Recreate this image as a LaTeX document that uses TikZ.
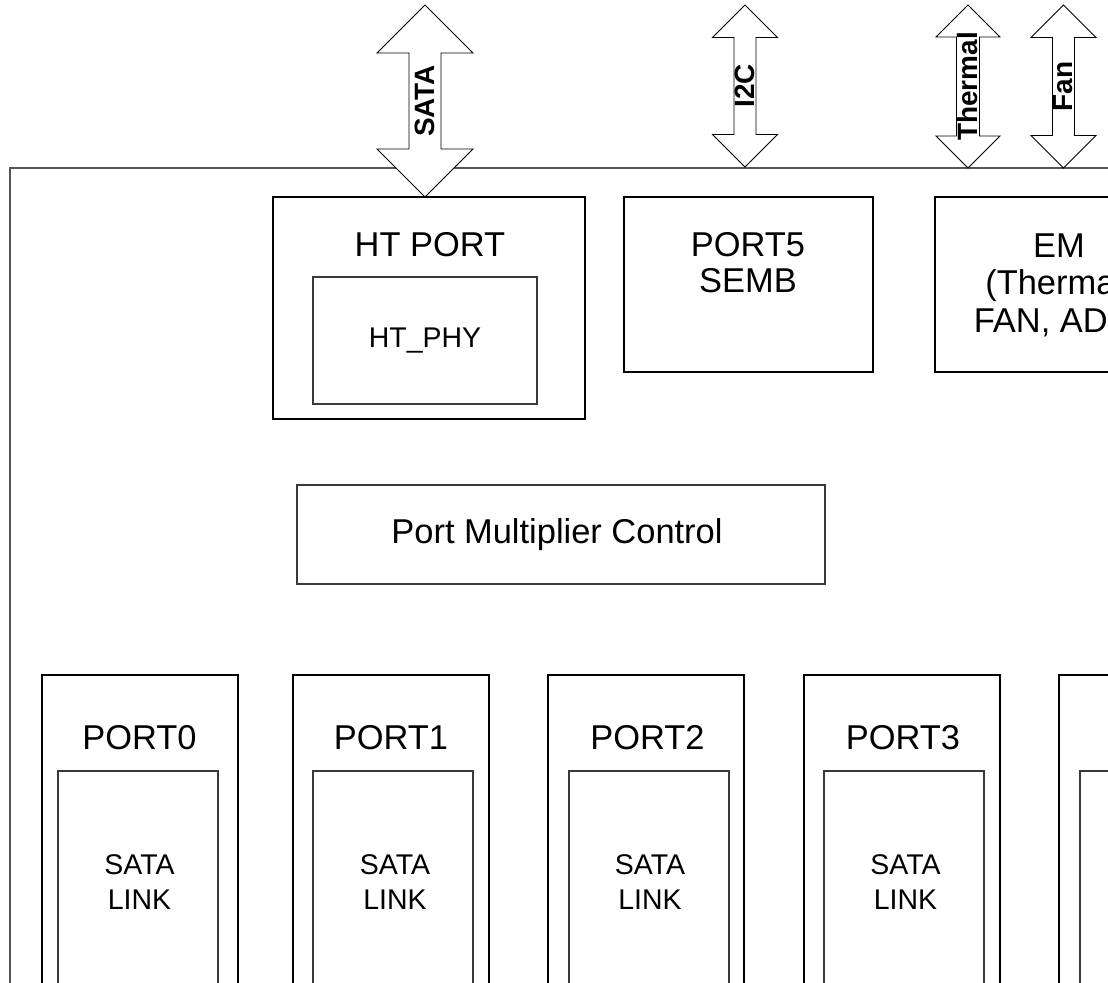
\documentclass[tikz,border=0pt]{standalone}
\usepackage{fontspec}
\setmainfont{Liberation Sans}
\definecolor{rahmen}{HTML}{555555}
\definecolor{duenn}{HTML}{3A3A3A}
\tikzset{
  block/.style={draw=black,line width=1.2pt},
  subblock/.style={draw=duenn,line width=0.6pt},
  frame/.style={draw=rahmen,line width=0.6pt},
  bus/.style={draw=black,fill=white,line width=0.55pt,line join=miter},
  buslbl/.style={font=\bfseries\fontsize{15.9}{16}\selectfont,inner sep=0pt,rotate=90},
  biglbl/.style={font=\fontsize{19.6}{20.4}\selectfont,inner sep=0pt,align=center,anchor=north},
  lbl/.style={font=\fontsize{16.2}{19.8}\selectfont,inner sep=0pt,align=center,anchor=north},
}

\begin{document}
\begin{tikzpicture}[x=0.2mm,y=-0.2mm]
  \useasboundingbox (0,0) rectangle (1108,983);
  \clip (0,0) rectangle (1108,983);
  % ===== outer frame =====
  \draw[frame] (10,1100) -- (10,168) -- (1200,168);
  % ===== bus arrows =====
  \foreach \x/\h/\s/\b/\nm/\txt in {425/48/16/197/sata/SATA, 745/32.5/11/167/itwoc/I2C,
      968/32/11.5/168/thermal/Thermal, 1063.5/32.5/11/168/fan/Fan}{
    \draw[bus] (\x,5) -- (\x+\h,5+\h) -- (\x+\s,5+\h) -- (\x+\s,\b-\h) -- (\x+\h,\b-\h)
      -- (\x,\b) -- (\x-\h,\b-\h) -- (\x-\s,\b-\h) -- (\x-\s,5+\h) -- (\x-\h,5+\h) -- cycle;
    \node[buslbl] (\nm) at (\x,{(5+\b)/2}) {\txt};
  }
  % ===== HT port =====
  \draw[block] (273,197) rectangle (585,419);
  \draw[subblock] (313,277) rectangle (537,404);
  \node[biglbl] (htport) at (430,232) {HT PORT};
  \node[lbl] (htphy) at (425,328) {HT\_PHY};
  % ===== SEMB, EM =====
  \draw[block] (624,197) rectangle (873,372);
  \node[biglbl] (port5) at (748,232) {PORT5\\SEMB};
  \draw[block] (935,197) rectangle (1184,372);
  \node[biglbl,font=\fontsize{19.6}{21.5}\selectfont] (em) at (1059,233) {EM\\(Thermal,\\FAN, ADC)};
  % ===== control =====
  \draw[subblock] (297,485) rectangle (825,584);
  \node[biglbl] (pmc) at (557,518) {Port Multiplier Control};
  % ===== device ports =====
  \foreach \l/\m in {42/58, 293/313, 548/569, 804/824, 1059/1080}{
    \draw[block] (\l,675) rectangle ++(196,500);
    \draw[subblock] (\m,771) rectangle ++(160,500);
  }
  \foreach \i/\p/\q in {0/139.5/139.5, 1/391/395, 2/647.5/650, 3/903/905.5}{
    \node[biglbl] (port\i) at (\p,725) {PORT\i};
    \node[lbl] (link\i) at (\q,854) {SATA\\LINK};
  }
\end{tikzpicture}
\end{document}
